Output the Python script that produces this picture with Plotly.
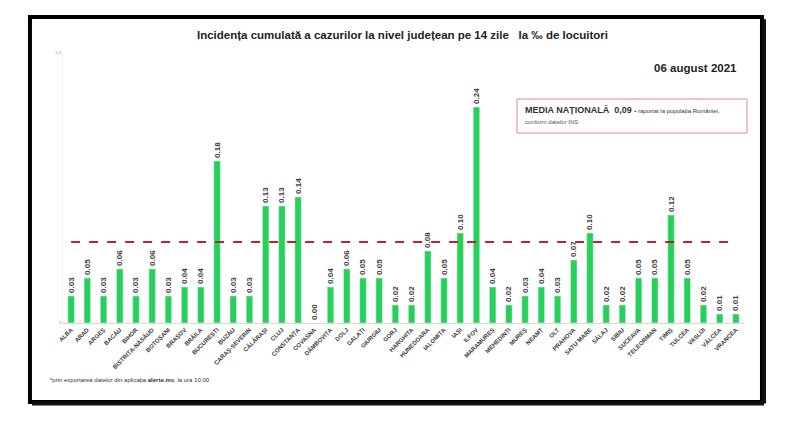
import plotly.graph_objects as go

judete = ["ALBA", "ARAD", "ARGEȘ", "BACĂU", "BIHOR", "BISTRIȚA-NĂSĂUD", "BOTOȘANI",
          "BRAȘOV", "BRĂILA", "BUCUREȘTI", "BUZĂU", "CARAȘ-SEVERIN", "CĂLĂRAȘI",
          "CLUJ", "CONSTANȚA", "COVASNA", "DÂMBOVIȚA", "DOLJ", "GALAȚI", "GIURGIU",
          "GORJ", "HARGHITA", "HUNEDOARA", "IALOMIȚA", "IAȘI", "ILFOV", "MARAMUREȘ",
          "MEHEDINȚI", "MUREȘ", "NEAMȚ", "OLT", "PRAHOVA", "SATU MARE", "SĂLAJ",
          "SIBIU", "SUCEAVA", "TELEORMAN", "TIMIȘ", "TULCEA", "VASLUI", "VÂLCEA",
          "VRANCEA"]

incidenta = [0.03, 0.05, 0.03, 0.06, 0.03, 0.06, 0.03,
             0.04, 0.04, 0.18, 0.03, 0.03, 0.13,
             0.13, 0.14, 0.00, 0.04, 0.06, 0.05, 0.05,
             0.02, 0.02, 0.08, 0.05, 0.10, 0.24, 0.04,
             0.02, 0.03, 0.04, 0.03, 0.07, 0.10, 0.02,
             0.02, 0.05, 0.05, 0.12, 0.05, 0.02, 0.01,
             0.01]

media_nationala = 0.09

titlu = "Incidența cumulată a cazurilor la nivel județean pe 14 zile   la ‰ de locuitori"
data_raport = "06 august 2021"

fig = go.Figure(go.Bar(
    x=judete,
    y=incidenta,
    marker_color="#25d158",
    texttemplate="%{y:.2f}",
    textposition="outside",
    textangle=-90,
    constraintext="none",
    cliponaxis=False,
    textfont=dict(size=8, color="#404040", family="Liberation Sans", weight="bold"),
))

# linia mediei nationale
fig.add_shape(type="line", xref="x", yref="y", x0=0, x1=41,
              y0=media_nationala, y1=media_nationala,
              line=dict(color="#b8262c", width=2, dash="dash"))

# chenar negru
fig.add_shape(type="rect", xref="paper", yref="paper",
              x0=-0.0485, x1=1.0264, y0=-0.2926, y1=1.133,
              line=dict(color="black", width=4), layer="below")
fig.add_shape(type="line", xref="paper", yref="paper",
              x0=-0.0455, x1=1.0294, y0=-0.2986, y1=-0.2986,
              line=dict(color="#111111", width=4))
fig.add_shape(type="line", xref="paper", yref="paper",
              x0=1.0294, x1=1.0294, y0=-0.2986, y1=1.125,
              line=dict(color="#111111", width=4))

# caseta media nationala
fig.add_shape(type="rect", xref="paper", yref="paper",
              x0=0.6667, x1=1.0044, y0=0.7037, y1=0.8296,
              line=dict(color="#d88a8f", width=1), fillcolor="white")

fig.add_annotation(xref="paper", yref="paper", x=0.676, y=0.789,
                   xanchor="left", yanchor="middle", showarrow=False,
                   text="<b>MEDIA NAȚIONALĂ  0,09</b> <span style='font-size:6px'>• raportat la populația României,</span>",
                   font=dict(size=9, color="#333333", family="Liberation Sans"))
fig.add_annotation(xref="paper", yref="paper", x=0.676, y=0.744,
                   xanchor="left", yanchor="middle", showarrow=False,
                   text="conform datelor INS",
                   font=dict(size=6, color="#555555", family="Liberation Sans"))

fig.add_annotation(xref="paper", yref="paper", x=0.4985, y=1.0667,
                   xanchor="center", yanchor="middle", showarrow=False,
                   text=titlu,
                   font=dict(size=11.5, color="#222222", family="Liberation Sans", weight="bold"))
fig.add_annotation(xref="paper", yref="paper", x=0.9927, y=0.944,
                   xanchor="right", yanchor="middle", showarrow=False,
                   text=data_raport,
                   font=dict(size=11.5, color="#222222", family="Liberation Sans", weight="bold"))
fig.add_annotation(xref="paper", yref="paper", x=-0.022, y=-0.211,
                   xanchor="left", yanchor="middle", showarrow=False,
                   text="*prin exportarea datelor din aplicația <b>alerte.ms</b>, la ora 10.00",
                   font=dict(size=6, color="#333333", family="Liberation Sans"))

# the page adds an 8px body margin, so the margins are shifted by 8px
fig.update_layout(
    width=800,
    height=431,
    margin=dict(l=55, r=64, t=45, b=116),
    paper_bgcolor="white",
    plot_bgcolor="white",
    showlegend=False,
    bargap=0.6,
    xaxis=dict(
        tickangle=-45,
        tickfont=dict(size=6, color="#3a3a3a", family="Liberation Sans", weight="bold"),
        showline=True,
        linecolor="#d9d9d9",
        showgrid=False,
        ticks="",
        range=[-0.5, 41.5],
    ),
    yaxis=dict(
        range=[0, 0.3],
        tickvals=[0, 0.3],
        ticktext=["0", "0.3"],
        tickfont=dict(size=4, color="#888888"),
        showline=True,
        linecolor="#eeeeee",
        showgrid=False,
        zeroline=False,
    ),
)

fig.write_html("out.html")
